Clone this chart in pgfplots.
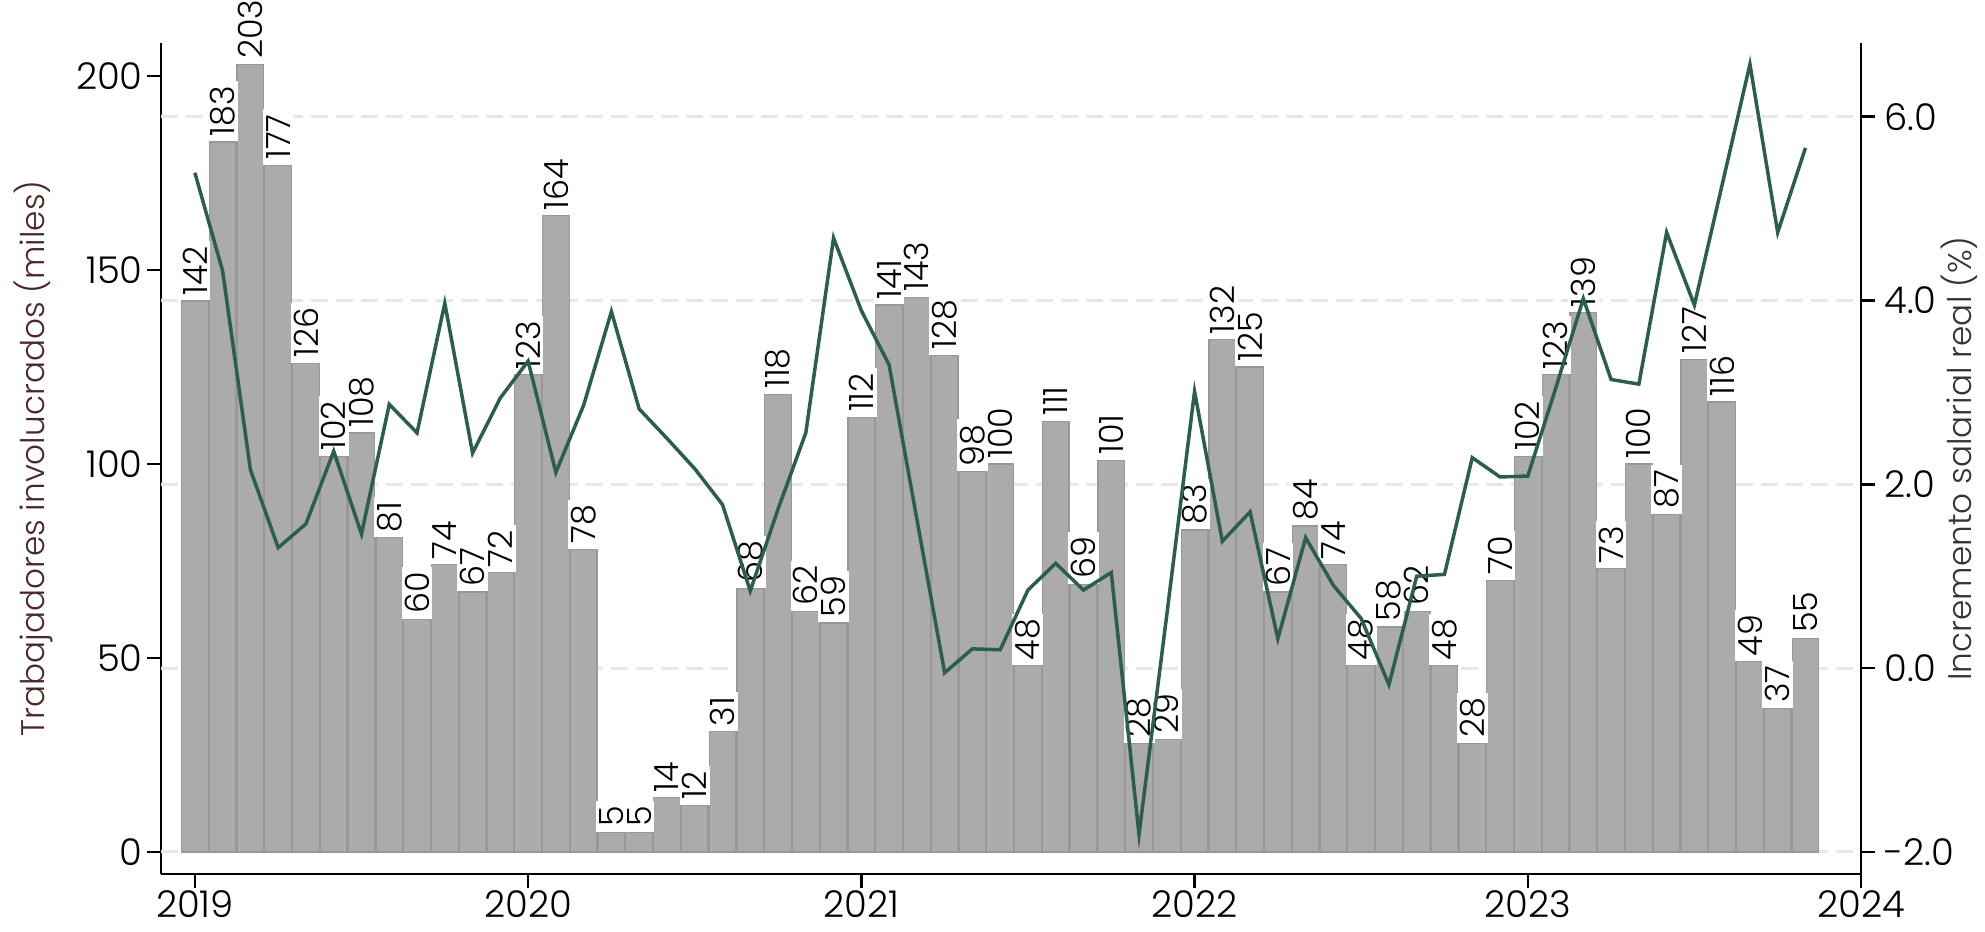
\documentclass[border=0pt]{standalone}
\usepackage{fontspec}
\setmainfont{Poppins}[UprightFont=* Light]
\usepackage{pgfplots}
\usepackage{pgfplotstable}
\pgfplotsset{compat=1.18}

\definecolor{barfill}{RGB}{171,171,171}
\definecolor{bardraw}{RGB}{152,152,152}
\definecolor{linecol}{RGB}{43,94,80}
\definecolor{gridcol}{RGB}{232,232,232}
\definecolor{lefttitle}{RGB}{75,40,40}

% m = months since Jan 2019; bars = trabajadores (miles); wage = incremento salarial real (%)
\pgfplotstableread{
m  bars wage
0  142  5.39
1  183  4.32
2  203  2.16
3  177  1.31
4  126  1.57
5  102  2.36
6  108  1.46
7  81   2.87
8  60   2.56
9  74   3.97
10 67   2.34
11 72   2.94
12 123  3.34
13 164  2.13
14 78   2.86
15 5    3.88
16 5    2.82
17 14   2.50
18 12   2.17
19 31   1.78
20 68   0.84
21 118  1.73
22 62   2.56
23 59   4.68
24 112  3.89
25 141  3.30
26 143  1.62
27 128  -0.05
28 98   0.21
29 100  0.20
30 48   0.85
31 111  1.14
32 69   0.85
33 101  1.04
34 28   -1.81
35 29   0.58
36 83   3.01
37 132  1.38
38 125  1.70
39 67   0.32
40 84   1.42
41 74   0.90
42 48   0.54
43 58   -0.18
44 62   1.00
45 48   1.02
46 28   2.29
47 70   2.08
48 102  2.09
49 123  3.04
50 139  4.02
51 73   3.14
52 100  3.09
53 87   4.74
54 127  3.95
55 116  5.26
56 49   6.57
57 37   4.74
58 55   5.66
}\datos

\newcommand{\tickfont}{\fontsize{10.5}{12}\selectfont}
\newcommand{\barfont}{\fontsize{9.5}{11}\selectfont}
\newcommand{\titlefont}{\fontsize{9.3}{11}\selectfont}

\pgfplotsset{
  twin/.style={
    at={(0,0)}, anchor=south west,
    scale only axis, width=170mm, height=83.1mm,
    xmin=-1.22, xmax=60,
    axis line style={line width=0.25mm, black, -},
    tick align=outside, major tick length=1.4mm,
    tick style={line width=0.25mm, black},
    ticklabel style={font=\tickfont},
    /pgf/number format/assume math mode=true,
    clip=false,
  },
}

\begin{document}
\begin{tikzpicture}
% left axis: bars
\begin{axis}[
  twin,
  ymin=-5.67, ymax=208.5,
  axis x line*=bottom, axis y line*=left,
  xtick={0,12,...,60},
  xticklabels={2019,2020,2021,2022,2023,2024},
  xticklabel style={inner ysep=0.2mm, yshift=0mm},
  ytick={0,50,...,200},
  yticklabel style={xshift=0.8mm},
  extra y ticks={0,47.38,94.76,142.14,189.52},
  extra y tick labels={},
  extra y tick style={grid=major, tick style={draw=none}},
  major grid style={gridcol, line width=0.3mm, dash pattern=on 1.7mm off 0.8mm},
  ylabel={Trabajadores involucrados (miles)},
  ylabel style={at={(rel axis cs:0,0.5)}, anchor=center, yshift=12.8mm,
    font=\titlefont, text=lefttitle, inner sep=0.5mm},
  ybar, bar width=0.96,
]
\addplot[fill=barfill, draw=bardraw, line width=0.12mm,
  nodes near coords,
  nodes near coords style={rotate=90, anchor=west, fill=white,
    inner xsep=0.5mm, inner ysep=0.3mm, font=\barfont, text=black},
] table[x=m, y=bars]{\datos};
\end{axis}
% right axis: real wage line
\begin{axis}[
  twin,
  ymin=-2.2393, ymax=6.8013,
  axis x line=none, axis y line*=right,
  ytick={-2,0,...,6},
  yticklabels={-2.0,0.0,2.0,4.0,6.0},
  yticklabel style={xshift=-0.3mm},
  ylabel={Incremento salarial real (\%)},
  ylabel style={at={(rel axis cs:1,0.5)}, anchor=center, yshift=-9.8mm,
    font=\titlefont, text=black!80, inner sep=0.5mm},
]
\addplot[linecol, line width=0.35mm, mark=none] table[x=m, y=wage]{\datos};
\end{axis}
\pgfresetboundingbox
\path[use as bounding box] (-16.1mm,-5.8mm) rectangle (182.4mm,87.4mm);
\end{tikzpicture}
\end{document}
